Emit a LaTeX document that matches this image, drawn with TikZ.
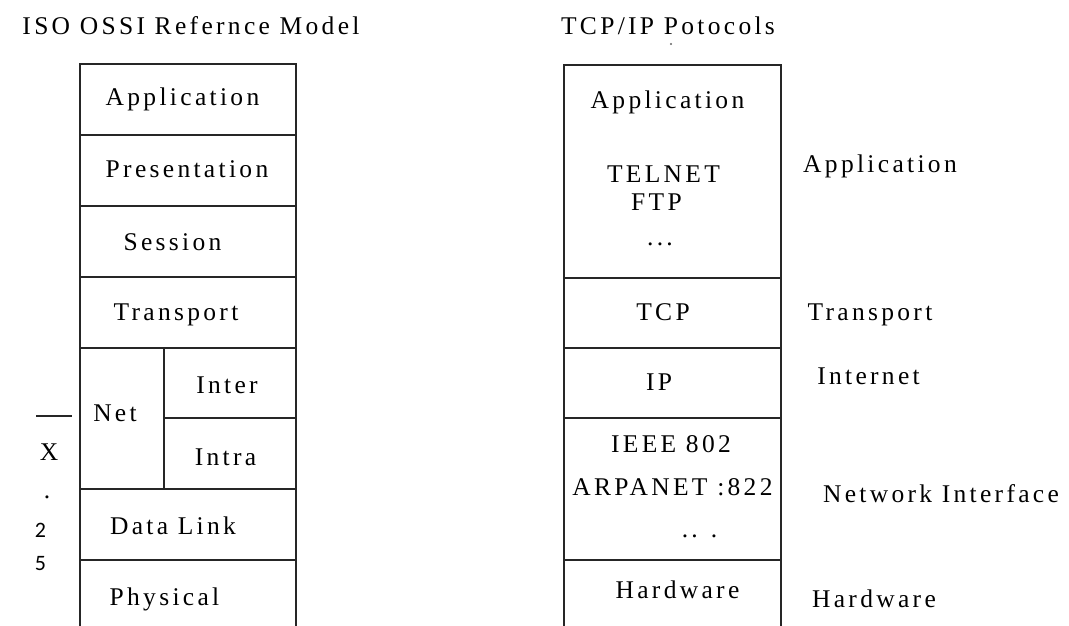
\documentclass[tikz,border=0pt]{standalone}
\usepackage{fontspec}
\setmainfont{Liberation Serif}[LetterSpace=13]
\newfontfamily\digitfont{Carlito}
\begin{document}
\begin{tikzpicture}[x=1pt,y=-1pt,
  layer/.style={draw=black!85, line width=1.8pt, inner sep=0pt, anchor=north west},
  txt/.style={anchor=base, inner sep=0pt, font=\fontsize{25.5}{30}\selectfont},
  dig/.style={anchor=base, inner sep=0pt, font=\digitfont\fontsize{22}{26}\selectfont}]
\useasboundingbox (0,0) rectangle (1069,626);
\clip (0,0) rectangle (1069,626);
\fill[white] (0,0) rectangle (1069,626);

% titles
\node[txt] (t1) at (191,35) {ISO OSSI Refernce Model};
\node[txt] (t2) at (668,35) {TCP/IP Potocols};
\fill[black!60] (671,44) circle (1.2pt);

% left stack
\node[layer, minimum width=216pt, minimum height=71pt] (lapp) at (79,63) {};
\node[layer, minimum width=216pt, minimum height=71pt] (lpres) at (79,134) {};
\node[layer, minimum width=216pt, minimum height=71pt] (lsess) at (79,205) {};
\node[layer, minimum width=216pt, minimum height=71pt] (ltrans) at (79,276) {};
\node[layer, minimum width=84pt, minimum height=141pt] (lnet) at (79,347) {};
\node[layer, minimum width=132pt, minimum height=70pt] (linter) at (163,347) {};
\node[layer, minimum width=132pt, minimum height=71pt] (lintra) at (163,417) {};
\node[layer, minimum width=216pt, minimum height=71pt] (ldl) at (79,488) {};
\node[layer, minimum width=216pt, minimum height=110pt] (lphys) at (79,559) {};

\node[txt] (lappT) at (182.5,106) {Application};
\node[txt] (lpresT) at (187,177) {Presentation};
\node[txt] (lsessT) at (172.5,250) {Session};
\node[txt] (ltransT) at (176,320) {Transport};
\node[txt] (lnetT) at (115,421) {Net};
\node[txt] (linterT) at (227,393) {Inter};
\node[txt] (lintraT) at (225.5,465) {Intra};
\node[txt] (ldlT) at (173,534) {Data Link};
\node[txt] (lphysT) at (164.5,605) {Physical};

% X.25
\coordinate (xa) at (36,416);
\coordinate (xb) at (72,416);
\draw[black!85, line width=1.8pt] (xa) -- (xb);
\node[txt] (xX) at (49,460) {X};
\node[txt] (xdot) at (47,498) {.};
\node[dig] (x2) at (40.5,537) {2};
\node[dig] (x5) at (40.5,570) {5};

% right stack
\node[layer, minimum width=217pt, minimum height=213pt] (rapp) at (563,64) {};
\node[layer, minimum width=217pt, minimum height=70pt] (rtcp) at (563,277) {};
\node[layer, minimum width=217pt, minimum height=70pt] (rip) at (563,347) {};
\node[layer, minimum width=217pt, minimum height=142pt] (rni) at (563,417) {};
\node[layer, minimum width=217pt, minimum height=110pt] (rhw) at (563,559) {};

\node[txt] (rappT) at (667.5,108) {Application};
\node[txt] (rtelT) at (663.5,182) {TELNET};
\node[txt] (rftpT) at (656.5,210) {FTP};
\node[txt] (rdotsT) at (660,245) {...};
\node[txt] (rtcpT) at (663,320) {TCP};
\node[txt] (ripT) at (659,390) {IP};
\node[txt] (rieeeT) at (671,452) {IEEE 802};
\node[txt] (rarpaT) at (672.5,495) {ARPANET :822};
\node[txt] (rdots2T) at (699.5,537) {.. .};
\node[txt] (rhwT) at (677.5,598) {Hardware};

% right labels
\node[txt] (lbApp) at (880,172) {Application};
\node[txt] (lbTr) at (870,320) {Transport};
\node[txt] (lbIn) at (868.5,384) {Internet};
\node[txt] (lbNI) at (941,502) {Network Interface};
\node[txt] (lbHw) at (874,607) {Hardware};
\end{tikzpicture}
\end{document}
